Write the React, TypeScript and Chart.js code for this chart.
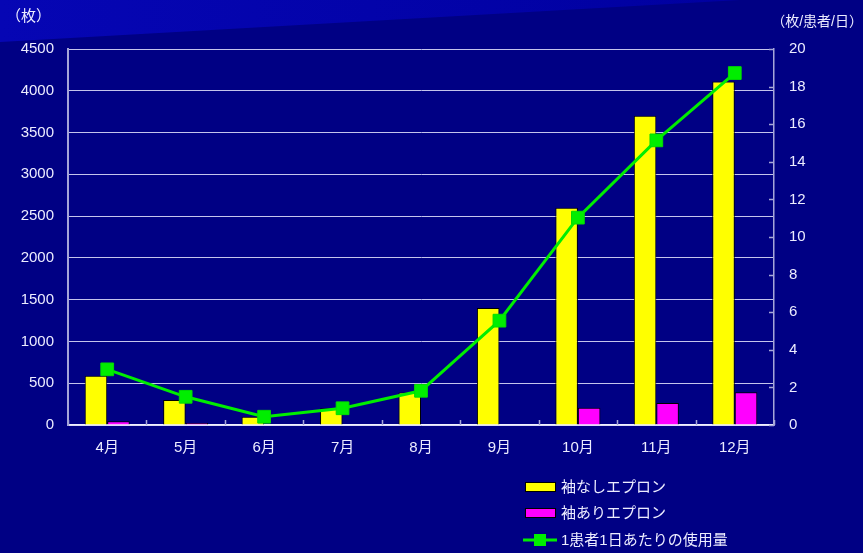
import React, { useEffect, useRef } from "react";
import { Chart, registerables } from "chart.js";

Chart.register(...registerables);

// 月別データ
const months = ["4月", "5月", "6月", "7月", "8月", "9月", "10月", "11月", "12月"];
const sleevelessLabel = "袖なしエプロン";
const sleevedLabel = "袖ありエプロン";
const perPatientLabel = "1患者1日あたりの使用量";
const sleeveless = [590, 300, 100, 200, 390, 1400, 2600, 3700, 4110];
const sleeved = [45, 25, 0, 0, 5, 5, 207, 264, 392];
const perPatient = [2.96, 1.5, 0.44, 0.89, 1.82, 5.55, 11.03, 15.14, 18.72];
const leftTitle = "（枚）";
const rightTitle = "（枚/患者/日）";

const W = 863;
const H = 553;
const FONT = "'Liberation Sans', 'Noto Sans CJK JP', sans-serif";
const TEXT = "#ececff";
const GRID = "#c4c4ec";
const AXIS = "#a6a6d8";

const decor = {
  id: "decor",
  beforeDraw(chart: any) {
    const ctx = chart.ctx;
    ctx.save();
    ctx.fillStyle = "#000084";
    ctx.fillRect(0, 0, W, H);
    // header band
    const g = ctx.createLinearGradient(0, 0, 740, 0);
    g.addColorStop(0, "#0606b4");
    g.addColorStop(1, "#0000a0");
    ctx.fillStyle = g;
    ctx.beginPath();
    ctx.moveTo(0, 0);
    ctx.lineTo(740, 0);
    ctx.lineTo(0, 42);
    ctx.closePath();
    ctx.fill();
    ctx.restore();
  },
  afterDraw(chart: any) {
    const ctx = chart.ctx;
    const { x, y1 } = chart.scales;
    const area = chart.chartArea;
    ctx.save();
    // inward tick marks
    ctx.strokeStyle = AXIS;
    ctx.lineWidth = 1.5;
    ctx.beginPath();
    for (let i = 0; i <= months.length; i++) {
      const px = Math.round(x.getPixelForValue(i - 0.5)) + 0.5;
      ctx.moveTo(px, area.bottom);
      ctx.lineTo(px, area.bottom - 5);
    }
    for (let v = 0; v <= 20; v += 2) {
      const py = Math.round(y1.getPixelForValue(v)) + 0.5;
      ctx.moveTo(area.right, py);
      ctx.lineTo(area.right - 5, py);
    }
    ctx.stroke();

    // axis titles
    ctx.fillStyle = TEXT;
    ctx.textBaseline = "middle";
    ctx.font = `15px ${FONT}`;
    ctx.textAlign = "left";
    ctx.fillText(leftTitle, 6, 17);
    ctx.font = `14px ${FONT}`;
    ctx.textAlign = "right";
    ctx.fillText(rightTitle, W, 22);

    // legend
    const ds = chart.data.datasets;
    const rows = [487, 513, 540];
    ctx.font = `15px ${FONT}`;
    ctx.textAlign = "left";
    for (let i = 0; i < 3; i++) {
      const cy = rows[i];
      const d = ds[i];
      if (i < 2) {
        ctx.fillStyle = d.backgroundColor;
        ctx.fillRect(525, cy - 5, 31, 10);
        ctx.strokeStyle = "#000000";
        ctx.lineWidth = 1;
        ctx.strokeRect(525.5, cy - 4.5, 30, 9);
      } else {
        ctx.strokeStyle = d.borderColor;
        ctx.lineWidth = 3;
        ctx.beginPath();
        ctx.moveTo(523, cy);
        ctx.lineTo(557, cy);
        ctx.stroke();
        ctx.fillStyle = d.pointBackgroundColor;
        ctx.fillRect(534, cy - 6, 12, 12);
      }
      ctx.fillStyle = TEXT;
      ctx.fillText(d.label, 561, cy + 1);
    }
    ctx.restore();
  },
};

const plain = (v: any) => String(v);

export default function App() {
  const ref = useRef<HTMLCanvasElement | null>(null);

  useEffect(() => {
    document.body.style.margin = "0";
    const canvas = ref.current;
    if (!canvas) return;
    const chart = new Chart(canvas, {
      type: "bar",
      data: {
        labels: months,
        datasets: [
          {
            type: "bar",
            label: sleevelessLabel,
            data: sleeveless,
            backgroundColor: "#ffff00",
            borderColor: "#000000",
            borderWidth: 1,
            yAxisID: "y",
            order: 1,
          } as any,
          {
            type: "bar",
            label: sleevedLabel,
            data: sleeved,
            backgroundColor: "#ff00ff",
            borderColor: "#000000",
            borderWidth: 1,
            yAxisID: "y",
            order: 1,
          },
          {
            type: "line",
            label: perPatientLabel,
            data: perPatient,
            borderColor: "#00ee00",
            borderWidth: 3,
            pointStyle: "rect",
            pointRadius: 9,
            pointBackgroundColor: "#00ee00",
            pointBorderColor: "#00dd00",
            pointBorderWidth: 1,
            yAxisID: "y1",
            tension: 0,
            order: 0,
          },
        ],
      },
      options: {
        responsive: false,
        animation: false,
        devicePixelRatio: 1,
        layout: { padding: { top: 49, left: 0, right: 0, bottom: 0 } },
        datasets: {
          bar: { categoryPercentage: 0.574, barPercentage: 1 },
        },
        plugins: {
          legend: { display: false },
          tooltip: { enabled: false },
          title: { display: false },
        },
        scales: {
          x: {
            offset: true,
            grid: { display: false, drawTicks: false },
            border: { display: true, color: "#f0f0ff", width: 1.5 },
            ticks: {
              color: TEXT,
              font: { size: 15, family: FONT },
              padding: 14,
              maxRotation: 0,
            },
            afterFit(s: any) {
              s.height = 128;
            },
          },
          y: {
            position: "left",
            min: 0,
            max: 4500,
            grid: { color: GRID, lineWidth: 1, drawTicks: false },
            border: { display: true, color: AXIS, width: 2 },
            ticks: {
              stepSize: 500,
              color: TEXT,
              font: { size: 15, family: FONT },
              padding: 14,
              callback: plain,
            },
            afterFit(s: any) {
              s.width = 68;
            },
          },
          y1: {
            position: "right",
            min: 0,
            max: 20,
            grid: { drawOnChartArea: false, drawTicks: false },
            border: { display: true, color: AXIS, width: 1.5 },
            ticks: {
              stepSize: 2,
              color: TEXT,
              font: { size: 15, family: FONT },
              padding: 15,
              callback: plain,
            },
            afterFit(s: any) {
              s.width = 89;
            },
          },
        },
      },
      plugins: [decor],
    });
    return () => chart.destroy();
  }, []);

  return (
    <div style={{ position: "fixed", left: 0, top: 0, width: W, height: H }}>
      <canvas ref={ref} width={W} height={H} />
    </div>
  );
}
